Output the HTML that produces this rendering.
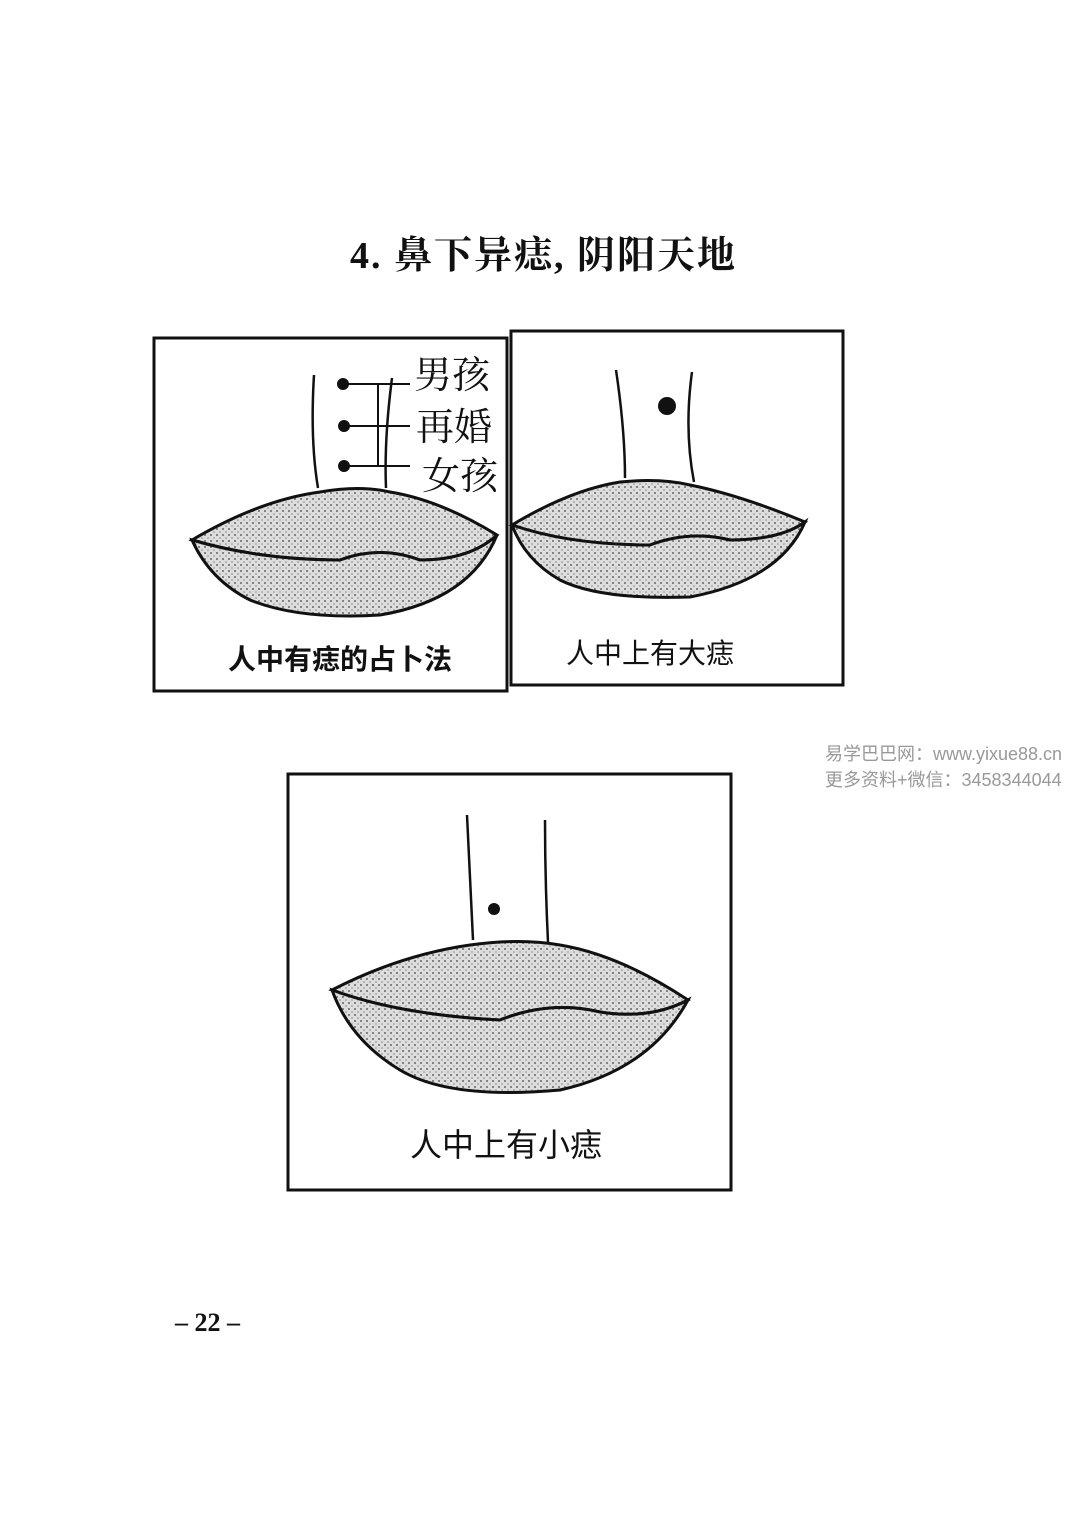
<!DOCTYPE html>
<html><head><meta charset="utf-8"><style>
body{margin:0;width:1080px;height:1528px;background:#fff;position:relative;overflow:hidden;font-family:"Liberation Sans","Noto Sans CJK SC",sans-serif}
.t{position:absolute;white-space:nowrap;color:#111}
</style></head><body>
<div class="t" style="left:350px;top:224px;font-size:38px;letter-spacing:2px;font-weight:bold;font-family:'Liberation Serif','Noto Serif CJK SC',serif">4. 鼻下异痣, 阴阳天地</div>
<svg width="1080" height="1528" style="position:absolute;left:0;top:0">
<defs>
<pattern id="dots" width="6" height="6" patternUnits="userSpaceOnUse"><rect width="6" height="6" fill="#ddd"/><circle cx="1" cy="1" r="1" fill="#666"/><circle cx="4" cy="4" r="0.8" fill="#888"/></pattern>
</defs>
<g fill="none" stroke="#111" stroke-width="3">
<rect x="154" y="338" width="353" height="353"/>
<rect x="511" y="331" width="332" height="354"/>
<rect x="288" y="774" width="443" height="416"/>
</g>
<g stroke="#111" stroke-width="3">
<path d="M192 540 Q260 500 320 492 Q360 485 390 492 Q440 500 497 535 Q470 560 420 560 Q380 545 340 560 Q260 560 192 540Z" fill="url(#dots)"/>
<path d="M192 540 Q260 560 340 560 Q380 545 420 560 Q470 560 497 535 Q470 600 380 615 Q300 620 250 600 Q210 580 192 540Z" fill="url(#dots)"/>
<path d="M314 375 Q310 440 318 488 M392 378 Q384 440 386 488" fill="none" stroke-width="2.5"/>
</g>
<g fill="#111" stroke="#111" stroke-width="2">
<circle cx="343" cy="384" r="5"/><circle cx="344" cy="426" r="5"/><circle cx="344" cy="466" r="5"/>
<path d="M343 384H410M344 426H410M344 466H410M378 384V466" fill="none"/>
</g>
<g stroke="#111" stroke-width="3">
<path d="M512 525 Q570 490 620 482 Q660 478 690 485 Q740 495 805 522 Q780 540 730 540 Q690 530 650 545 Q570 545 512 525Z" fill="url(#dots)"/>
<path d="M512 525 Q570 545 650 545 Q690 530 730 540 Q780 540 805 522 Q780 580 690 597 Q600 600 560 580 Q525 560 512 525Z" fill="url(#dots)"/>
<path d="M616 370 Q625 430 625 478 M692 372 Q684 430 694 482" fill="none" stroke-width="2.5"/>
</g>
<circle cx="667" cy="406" r="9" fill="#111"/>
<g stroke="#111" stroke-width="3">
<path d="M332 990 Q400 955 470 945 Q520 938 560 945 Q620 955 688 1000 Q650 1020 600 1012 Q550 1000 500 1020 Q400 1015 332 990Z" fill="url(#dots)"/>
<path d="M332 990 Q400 1015 500 1020 Q550 1000 600 1012 Q650 1020 688 1000 Q650 1070 560 1090 Q450 1100 400 1070 Q350 1040 332 990Z" fill="url(#dots)"/>
<path d="M467 815 Q470 880 473 940 M545 820 Q545 880 548 942" fill="none" stroke-width="2.5"/>
</g>
<circle cx="494" cy="909" r="6" fill="#111"/>
</svg>
<div class="t" style="left:414px;top:344px;font-size:38px;font-family:'Liberation Serif','Noto Serif CJK SC',serif">男孩</div>
<div class="t" style="left:416px;top:396px;font-size:38px;font-family:'Liberation Serif','Noto Serif CJK SC',serif">再婚</div>
<div class="t" style="left:422px;top:445px;font-size:38px;font-family:'Liberation Serif','Noto Serif CJK SC',serif">女孩</div>
<div class="t" style="left:228px;top:638px;font-size:28px;font-weight:bold">人中有痣的占卜法</div>
<div class="t" style="left:566px;top:632px;font-size:28px">人中上有大痣</div>
<div class="t" style="left:410px;top:1120px;font-size:32px">人中上有小痣</div>
<div class="t" style="left:825px;top:740px;font-size:18px;color:#999">易学巴巴网：www.yixue88.cn</div>
<div class="t" style="left:825px;top:766px;font-size:18px;color:#999">更多资料+微信：3458344044</div>
<div class="t" style="left:175px;top:1308px;font-size:26px;font-weight:bold;font-family:'Liberation Serif',serif">– 22 –</div>
</body></html>
